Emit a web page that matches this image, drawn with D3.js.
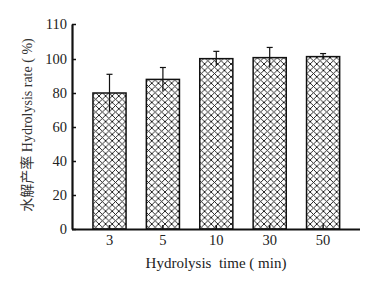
<!DOCTYPE html>
<html>
<head>
<meta charset="utf-8">
<script src="https://cdn.jsdelivr.net/npm/d3@7"></script>
</head>
<body style="margin:0">
<script>
const times = ["3", "5", "10", "30", "50"]
const rates = [80, 88, 100.2, 100.8, 101.4]
const errors = [11, 7, 4.3, 6, 1.8]
const y_ticks = [0, 20, 40, 60, 80, 100, 110]

const width = 382
const height = 294
const margin = { top: 24, right: 22, bottom: 65, left: 72 }
const serif = '"Liberation Serif"'

const svg = d3.select("body")
    .append("svg")
    .attr("width", width)
    .attr("height", height)
    .style("font-family", serif)

// cross hatch fill
const pattern = svg.append("defs")
    .append("pattern")
    .attr("id", "hatch")
    .attr("patternUnits", "userSpaceOnUse")
    .attr("width", 6.6)
    .attr("height", 6.4)
pattern.append("path")
    .attr("d", "M0,0L6.6,6.4M0,6.4L6.6,0")
    .attr("stroke", "#111")
    .attr("stroke-width", 0.9)
    .attr("fill", "none")

const x = d3.scaleBand()
    .domain(times)
    .range([82.8, 349.8])
    .paddingInner(0.38)
    .paddingOuter(0.19)

// data scale: 1.7 px per unit
const y = d3.scaleLinear()
    .domain([0, 100])
    .range([height - margin.bottom, 59])

// the original axis puts its 110 tick at the top, further up than the regular spacing
const y_axis_scale = d3.scaleLinear()
    .domain([0, 100, 110])
    .range([height - margin.bottom, 59, margin.top])

const x0 = margin.left
const x1 = width - margin.right

// bars
svg.append("g")
    .selectAll("rect")
    .data(times)
    .join("rect")
    .attr("x", d => x(d))
    .attr("y", (d, i) => y(rates[i]))
    .attr("width", x.bandwidth())
    .attr("height", (d, i) => y(0) - y(rates[i]))
    .attr("fill", "url(#hatch)")
    .attr("stroke", "#111")
    .attr("stroke-width", 1.5)

// error bars
const err = svg.append("g")
    .attr("stroke", "#111")
    .attr("stroke-width", 1.2)
err.selectAll("line.v")
    .data(times)
    .join("line")
    .attr("class", "v")
    .attr("x1", d => x(d) + x.bandwidth() / 2)
    .attr("x2", d => x(d) + x.bandwidth() / 2)
    .attr("y1", (d, i) => y(rates[i] + errors[i]))
    .attr("y2", (d, i) => y(rates[i] - errors[i]))
err.selectAll("line.cap")
    .data(times)
    .join("line")
    .attr("class", "cap")
    .attr("x1", d => x(d) + x.bandwidth() / 2 - 3)
    .attr("x2", d => x(d) + x.bandwidth() / 2 + 3)
    .attr("y1", (d, i) => y(rates[i] + errors[i]))
    .attr("y2", (d, i) => y(rates[i] + errors[i]))

// x axis
const xAxis = svg.append("g")
    .attr("transform", `translate(0,${y(0)})`)
    .call(d3.axisBottom(x).tickSize(-4).tickSizeOuter(0).tickPadding(6))
    .attr("font-family", null)
    .attr("font-size", null)
xAxis.select(".domain")
    .attr("d", `M${x0},0.5H${x1}`)
    .attr("stroke", "#111")
    .attr("stroke-width", 2.2)
xAxis.selectAll(".tick line").attr("stroke", "#111").attr("stroke-width", 1.5)
xAxis.selectAll(".tick text")
    .style("font-family", serif)
    .style("font-size", "14.5px")
    .style("fill", "#222")

// y axis
const yAxis = svg.append("g")
    .attr("transform", `translate(${x0},0)`)
    .call(d3.axisLeft(y_axis_scale).tickValues(y_ticks).tickSize(-4).tickSizeOuter(0).tickPadding(5))
    .attr("font-family", null)
    .attr("font-size", null)
yAxis.select(".domain")
    .attr("stroke", "#111")
    .attr("stroke-width", 2.2)
yAxis.selectAll(".tick line").attr("stroke", "#111").attr("stroke-width", 1.5)
yAxis.selectAll(".tick text")
    .style("font-family", serif)
    .style("font-size", "14.5px")
    .style("fill", "#222")

// axis titles
svg.append("text")
    .attr("x", 216)
    .attr("y", 268)
    .attr("text-anchor", "middle")
    .attr("xml:space", "preserve")
    .style("font-family", serif)
    .style("font-size", "15px")
    .style("fill", "#222")
    .text("Hydrolysis  time ( min)")

svg.append("text")
    .attr("transform", "translate(32,125) rotate(-90)")
    .attr("text-anchor", "middle")
    .attr("xml:space", "preserve")
    .style("font-family", '"Liberation Serif", "Noto Sans CJK SC"')
    .style("font-size", "14px")
    .style("fill", "#333")
    .text("水解产率 Hydrolysis rate ( %)")
</script>
</body>
</html>
